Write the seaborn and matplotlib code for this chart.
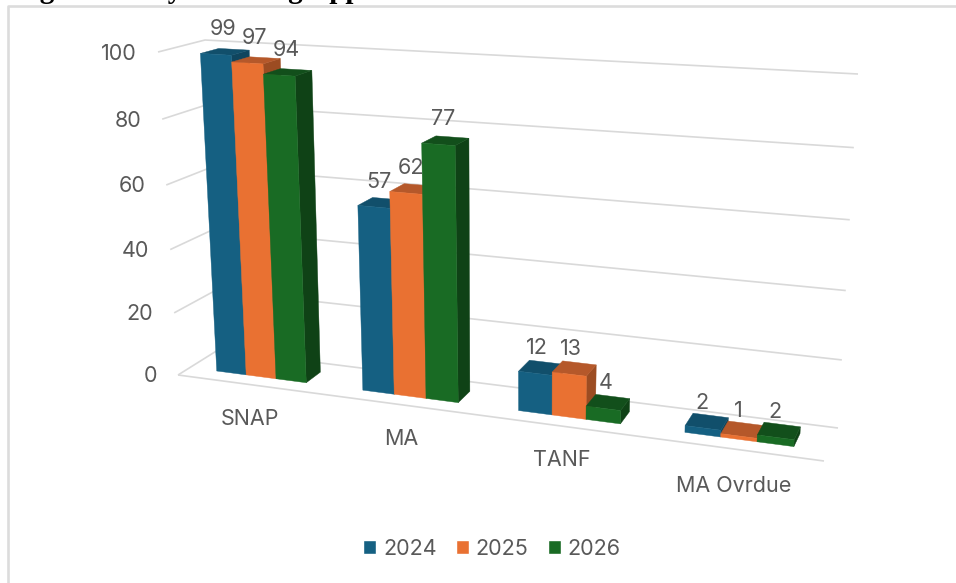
import numpy as np
import pandas as pd
import matplotlib
matplotlib.use('Agg')
import matplotlib.pyplot as plt
import seaborn as sns
from matplotlib.lines import Line2D
from matplotlib.patches import Polygon
from matplotlib.transforms import Affine2D, Transform

WIDTH, HEIGHT = 956, 583

categories = ['SNAP', 'MA', 'TANF', 'MA Ovrdue']
values_2024 = [99, 57, 12, 2]
values_2025 = [97, 62, 13, 1]
values_2026 = [94, 77, 4, 2]
y_ticks = [0, 20, 40, 60, 80, 100]

FRONT = ['#156082', '#E97132', '#196B24']
TOP = ['#114F6B', '#B5582A', '#124F1B']
SIDE = ['#0F455E', '#9C4C22', '#0F4216']
GRID = '#D9D9D9'
TEXT = '#595959'
FONT_SIZE = 15.5

# box corners in image pixels: [left/right][value 0/100][front/back]
CORNERS = np.array([
    [[(178, 375), (218, 350)], [(158, 52), (205, 40)]],
    [[(824, 461), (838, 428)], [(837, 94), (858, 74)]],
], dtype=float)
PERSPECTIVE = 0.14
PERSPECTIVE_V = 0.05
BAR_FRONT, BAR_BACK = 0.3, 0.7


def project(x, v, d):
    """category position, value, depth -> image pixels"""
    x = np.asarray(x, dtype=float)
    v = np.asarray(v, dtype=float) / 100
    v = v / (1 + PERSPECTIVE_V * (1 - v))
    d = np.asarray(d, dtype=float)
    t = (x + 0.5) / len(categories)
    u = t / (1 + PERSPECTIVE * (1 - t))
    out = 0
    for i, wu in enumerate([1 - u, u]):
        for j, wv in enumerate([1 - v, v]):
            for k, wd in enumerate([1 - d, d]):
                out = out + (wu * wv * wd)[..., None] * CORNERS[i, j, k]
    return out


class Cube(Transform):
    # data coordinates of the barplot -> display, on one depth plane
    input_dims = output_dims = 2

    def __init__(self, plane):
        super().__init__()
        self.plane = plane

    def transform_non_affine(self, values):
        px = project(values[:, 0], values[:, 1], np.full(len(values), self.plane))
        return np.column_stack([px[:, 0], HEIGHT - px[:, 1]])


to_px = Affine2D().scale(1, -1).translate(0, HEIGHT)

df = pd.DataFrame({
    'category': categories * 3,
    'year': ['2024'] * 4 + ['2025'] * 4 + ['2026'] * 4,
    'value': values_2024 + values_2025 + values_2026,
})

sns.set_theme(style='white')
plt.rcParams['font.family'] = ['Inter', 'DejaVu Sans']

fig = plt.figure(figsize=(WIDTH / 100, HEIGHT / 100), dpi=100)
ax = fig.add_axes([0, 0, 1, 1])
sns.barplot(data=df, x='category', y='value', hue='year', palette=FRONT,
            width=0.62, gap=0, saturation=1, ax=ax)
ax.set_xlim(-0.5, 3.5)
ax.set_ylim(0, 100)
ax.axis('off')


def pixel_line(points, z=0.5):
    pts = np.array(points)
    ax.plot(pts[:, 0], pts[:, 1], color=GRID, lw=1.2, transform=to_px,
            clip_on=False, zorder=z, solid_capstyle='butt')


# walls and floor
for tick in y_ticks:
    fl = project(-0.5, tick, 0.0)
    bl = project(-0.5, tick, 1.0)
    br = project(3.5, tick, 1.0)
    pixel_line([fl, bl, br])
    ax.text(fl[0] - 21, fl[1] + 1.5, str(tick), color=TEXT, fontsize=FONT_SIZE,
            ha='right', va='center', transform=to_px)
pixel_line([project(-0.5, 0, 0.0), project(3.5, 0, 0.0)])

# bars: the seaborn rectangles become the front faces
for h, container in enumerate(ax.containers):
    for c, rect in enumerate(container):
        x0, x1 = rect.get_x(), rect.get_x() + rect.get_width()
        val = rect.get_height()
        z = 2 + c * 10 + h * 3
        rect.set_transform(Cube(BAR_FRONT))
        rect.set_clip_on(False)
        rect.set_zorder(z + 2)
        rect.set_edgecolor(FRONT[h])
        rect.set_linewidth(0.3)

        top = [project(x0, val, BAR_FRONT), project(x1, val, BAR_FRONT),
               project(x1, val, BAR_BACK), project(x0, val, BAR_BACK)]
        side = [project(x1, 0, BAR_FRONT), project(x1, val, BAR_FRONT),
                project(x1, val, BAR_BACK), project(x1, 0, BAR_BACK)]
        ax.add_patch(Polygon(side, closed=True, fc=SIDE[h], ec=SIDE[h], lw=0.3,
                             transform=to_px, clip_on=False, zorder=z))
        ax.add_patch(Polygon(top, closed=True, fc=TOP[h], ec=TOP[h], lw=0.3,
                             transform=to_px, clip_on=False, zorder=z + 1))

        mid = project((x0 + x1) / 2, val, BAR_FRONT)
        ax.text(mid[0] + 7 - 2.5 * c, mid[1] - 25, str(int(val)), color=TEXT,
                fontsize=FONT_SIZE, ha='center', va='center',
                transform=to_px, zorder=100)

# category labels under the front edge
for c, name in enumerate(categories):
    p = project(c, 0, 0.0)
    ax.text(p[0], p[1] + 34 + (3 if c == 3 else 0), name, color=TEXT, fontsize=FONT_SIZE,
            ha='center', va='center', transform=to_px)

sns.move_legend(ax, 'center', bbox_to_anchor=(492 / WIDTH, 1 - 549 / HEIGHT),
                ncol=3, frameon=False, title=None, fontsize=FONT_SIZE,
                handlelength=0.62, handleheight=0.62, handletextpad=0.3,
                columnspacing=0.9, labelcolor=TEXT)

# chart frame, cut off by the screenshot
fig.add_artist(Line2D([7.5 / WIDTH, 7.5 / WIDTH, 1], [0, 1 - 6 / HEIGHT, 1 - 6 / HEIGHT],
                      color='#DCDCDC', lw=1.9))
# heading above the chart, only its descenders are inside the screenshot
fig.text(14 / WIDTH, 1 + 2.5 / HEIGHT, 'Figure 1. Days Pending Applications',
         family=['Liberation Serif', 'DejaVu Serif'], weight='bold', fontsize=21,
         color='black', ha='left', va='baseline')

fig.savefig('out.png', dpi=100)
